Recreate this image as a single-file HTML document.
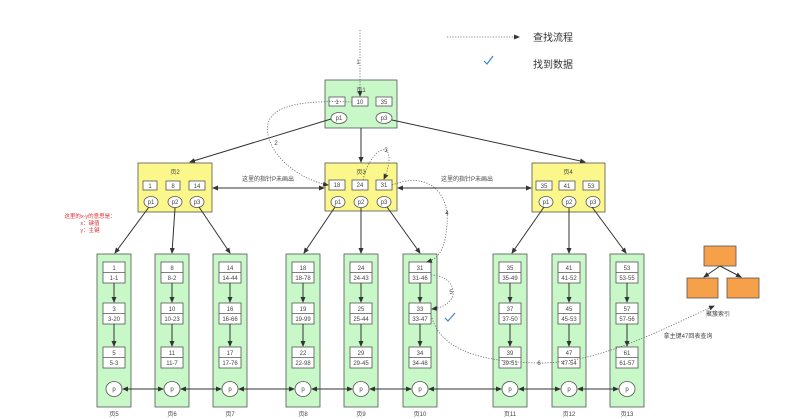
<!DOCTYPE html>
<html><head><meta charset="utf-8">
<style>
html,body{margin:0;padding:0;background:#fff;}
svg{display:block;font-family:"Liberation Sans","Noto Sans CJK SC",sans-serif;}
.t{font-size:6px;fill:#444;text-anchor:middle;}
.k{fill:#fff;stroke:#555;stroke-width:0.8;}
.ln{stroke:#333;stroke-width:1;fill:none;}
.dot{stroke:#666;stroke-width:0.8;fill:none;stroke-dasharray:1.2 1.5;}
</style></head>
<body>
<svg width="812" height="419" viewBox="0 0 812 419" xmlns="http://www.w3.org/2000/svg">
<defs>
<marker id="a" markerWidth="6" markerHeight="6" refX="5" refY="3" orient="auto" markerUnits="userSpaceOnUse"><path d="M0,0.5 L6,3 L0,5.5 Z" fill="#333"/></marker>
<marker id="as" markerWidth="6" markerHeight="6" refX="1" refY="3" orient="auto" markerUnits="userSpaceOnUse"><path d="M6,0.5 L0,3 L6,5.5 Z" fill="#333"/></marker>
<g id="leaf">
<rect x="0" y="254" width="34" height="153" fill="#c8f7c8" stroke="#555" stroke-width="0.8"/>
<rect class="k" x="6" y="262" width="22" height="21"/><line x1="6" y1="272.5" x2="28" y2="272.5" stroke="#555" stroke-width="0.8"/>
<rect class="k" x="6" y="303" width="22" height="21"/><line x1="6" y1="313.5" x2="28" y2="313.5" stroke="#555" stroke-width="0.8"/>
<rect class="k" x="6" y="347" width="22" height="21"/><line x1="6" y1="357.5" x2="28" y2="357.5" stroke="#555" stroke-width="0.8"/>
<line class="ln" x1="17" y1="283" x2="17" y2="302" marker-end="url(#a)"/>
<line class="ln" x1="17" y1="324" x2="17" y2="346" marker-end="url(#a)"/>
<ellipse cx="17" cy="389" rx="8" ry="7.5" fill="#fff" stroke="#555" stroke-width="0.8"/>
<text class="t" x="17" y="391">p</text>
</g>
</defs>

<line class="dot" x1="447" y1="37" x2="519" y2="37" marker-end="url(#a)"/>
<text x="533" y="41" style="font-size:10px;fill:#333">查找流程</text>
<path d="M484,61 L487,64 L493,56" stroke="#3b82d6" stroke-width="1.2" fill="none"/>
<text x="533" y="68" style="font-size:10px;fill:#333">找到数据</text>

<rect x="325" y="80" width="72" height="48" fill="#c8f7c8" stroke="#555" stroke-width="0.8"/>
<text class="t" x="361" y="92">页1</text>
<rect class="k" x="329" y="97" width="16" height="9"/><text class="t" x="337" y="104">1</text>
<rect class="k" x="352" y="97" width="16" height="9"/><text class="t" x="360" y="104">10</text>
<rect class="k" x="376" y="97" width="16" height="9"/><text class="t" x="384" y="104">35</text>
<ellipse cx="339" cy="118" rx="8" ry="5.5" fill="#fff" stroke="#555" stroke-width="0.8"/><text class="t" x="339" y="120">p1</text>
<ellipse cx="384" cy="118" rx="8" ry="5.5" fill="#fff" stroke="#555" stroke-width="0.8"/><text class="t" x="384" y="120">p3</text>

<g>
<rect x="138" y="163" width="74" height="49" fill="#fbf78a" stroke="#555" stroke-width="0.8"/>
<text class="t" x="175" y="174">页2</text>
<rect class="k" x="143" y="181" width="14" height="9"/><text class="t" x="150" y="188">1</text>
<rect class="k" x="166" y="181" width="14" height="9"/><text class="t" x="173" y="188">8</text>
<rect class="k" x="189" y="181" width="16" height="9"/><text class="t" x="197" y="188">14</text>
<ellipse cx="151" cy="202" rx="7" ry="5.5" fill="#fff" stroke="#555" stroke-width="0.8"/><text class="t" x="151" y="204">p1</text>
<ellipse cx="175" cy="202" rx="7" ry="5.5" fill="#fff" stroke="#555" stroke-width="0.8"/><text class="t" x="175" y="204">p2</text>
<ellipse cx="197" cy="202" rx="7" ry="5.5" fill="#fff" stroke="#555" stroke-width="0.8"/><text class="t" x="197" y="204">p3</text>
</g>
<g>
<rect x="325" y="163" width="72" height="48" fill="#fbf78a" stroke="#555" stroke-width="0.8"/>
<text class="t" x="361" y="174">页3</text>
<rect class="k" x="329" y="180" width="16" height="10"/><text class="t" x="337" y="187">18</text>
<rect class="k" x="352" y="180" width="16" height="10"/><text class="t" x="360" y="187">24</text>
<rect class="k" x="376" y="180" width="16" height="10"/><text class="t" x="384" y="187">31</text>
<ellipse cx="338" cy="202" rx="7" ry="5.5" fill="#fff" stroke="#555" stroke-width="0.8"/><text class="t" x="338" y="204">p1</text>
<ellipse cx="361" cy="202" rx="7" ry="5.5" fill="#fff" stroke="#555" stroke-width="0.8"/><text class="t" x="361" y="204">p2</text>
<ellipse cx="384" cy="202" rx="7" ry="5.5" fill="#fff" stroke="#555" stroke-width="0.8"/><text class="t" x="384" y="204">p3</text>
</g>
<g>
<rect x="532" y="163" width="73" height="49" fill="#fbf78a" stroke="#555" stroke-width="0.8"/>
<text class="t" x="568" y="174">页4</text>
<rect class="k" x="536" y="181" width="16" height="9"/><text class="t" x="544" y="188">35</text>
<rect class="k" x="559" y="181" width="16" height="9"/><text class="t" x="567" y="188">41</text>
<rect class="k" x="583" y="181" width="16" height="9"/><text class="t" x="591" y="188">53</text>
<ellipse cx="546" cy="202" rx="7" ry="5.5" fill="#fff" stroke="#555" stroke-width="0.8"/><text class="t" x="546" y="204">p1</text>
<ellipse cx="569" cy="202" rx="7" ry="5.5" fill="#fff" stroke="#555" stroke-width="0.8"/><text class="t" x="569" y="204">p2</text>
<ellipse cx="593" cy="202" rx="7" ry="5.5" fill="#fff" stroke="#555" stroke-width="0.8"/><text class="t" x="593" y="204">p3</text>
</g>

<line class="ln" x1="331" y1="119" x2="190" y2="162" marker-end="url(#a)"/>
<line class="ln" x1="361" y1="128" x2="361" y2="162" marker-end="url(#a)"/>
<line class="ln" x1="392" y1="120" x2="585" y2="162" marker-end="url(#a)"/>
<line class="ln" x1="213" y1="188" x2="324" y2="188" marker-start="url(#as)" marker-end="url(#a)"/>
<text class="t" x="268" y="181">这里的指针P未画出</text>
<line class="ln" x1="398" y1="188" x2="531" y2="188" marker-start="url(#as)" marker-end="url(#a)"/>
<text class="t" x="467" y="181">这里的指针P未画出</text>

<line class="ln" x1="149" y1="207" x2="115" y2="253" marker-end="url(#a)"/>
<line class="ln" x1="175" y1="208" x2="172" y2="253" marker-end="url(#a)"/>
<line class="ln" x1="199" y1="207" x2="230" y2="253" marker-end="url(#a)"/>
<line class="ln" x1="335" y1="207" x2="304" y2="253" marker-end="url(#a)"/>
<line class="ln" x1="361" y1="208" x2="361" y2="253" marker-end="url(#a)"/>
<line class="ln" x1="387" y1="207" x2="420" y2="253" marker-end="url(#a)"/>
<line class="ln" x1="544" y1="207" x2="512" y2="253" marker-end="url(#a)"/>
<line class="ln" x1="569" y1="208" x2="569" y2="253" marker-end="url(#a)"/>
<line class="ln" x1="592" y1="207" x2="626" y2="253" marker-end="url(#a)"/>

<use href="#leaf" x="97"/><use href="#leaf" x="155"/><use href="#leaf" x="213"/>
<use href="#leaf" x="286"/><use href="#leaf" x="344"/><use href="#leaf" x="403"/>
<use href="#leaf" x="493"/><use href="#leaf" x="552"/><use href="#leaf" x="610"/>

<g class="t">
<text class="t" x="114" y="270">1</text><text class="t" x="114" y="280">1-1</text><text class="t" x="114" y="311">3</text><text class="t" x="114" y="321">3-20</text><text class="t" x="114" y="355">5</text><text class="t" x="114" y="365">5-3</text>
<text class="t" x="172" y="270">8</text><text class="t" x="172" y="280">8-2</text><text class="t" x="172" y="311">10</text><text class="t" x="172" y="321">10-23</text><text class="t" x="172" y="355">11</text><text class="t" x="172" y="365">11-7</text>
<text class="t" x="230" y="270">14</text><text class="t" x="230" y="280">14-44</text><text class="t" x="230" y="311">16</text><text class="t" x="230" y="321">16-66</text><text class="t" x="230" y="355">17</text><text class="t" x="230" y="365">17-76</text>
<text class="t" x="303" y="270">18</text><text class="t" x="303" y="280">18-78</text><text class="t" x="303" y="311">19</text><text class="t" x="303" y="321">19-99</text><text class="t" x="303" y="355">22</text><text class="t" x="303" y="365">22-98</text>
<text class="t" x="361" y="270">24</text><text class="t" x="361" y="280">24-43</text><text class="t" x="361" y="311">25</text><text class="t" x="361" y="321">25-44</text><text class="t" x="361" y="355">29</text><text class="t" x="361" y="365">29-45</text>
<text class="t" x="420" y="270">31</text><text class="t" x="420" y="280">31-46</text><text class="t" x="420" y="311">33</text><text class="t" x="420" y="321">33-47</text><text class="t" x="420" y="355">34</text><text class="t" x="420" y="365">34-48</text>
<text class="t" x="510" y="270">35</text><text class="t" x="510" y="280">35-49</text><text class="t" x="510" y="311">37</text><text class="t" x="510" y="321">37-50</text><text class="t" x="510" y="355">39</text><text class="t" x="510" y="365">39-51</text>
<text class="t" x="569" y="270">41</text><text class="t" x="569" y="280">41-52</text><text class="t" x="569" y="311">45</text><text class="t" x="569" y="321">45-53</text><text class="t" x="569" y="355">47</text><text class="t" x="569" y="365">47-54</text>
<text class="t" x="627" y="270">53</text><text class="t" x="627" y="280">53-55</text><text class="t" x="627" y="311">57</text><text class="t" x="627" y="321">57-56</text><text class="t" x="627" y="355">61</text><text class="t" x="627" y="365">61-57</text>
</g>
<text class="t" x="114" y="416">页5</text><text class="t" x="172" y="416">页6</text><text class="t" x="230" y="416">页7</text>
<text class="t" x="303" y="416">页8</text><text class="t" x="361" y="416">页9</text><text class="t" x="420" y="416">页10</text>
<text class="t" x="510" y="416">页11</text><text class="t" x="569" y="416">页12</text><text class="t" x="627" y="416">页13</text>

<line class="ln" x1="123" y1="389" x2="163" y2="389" marker-start="url(#as)" marker-end="url(#a)"/>
<line class="ln" x1="181" y1="389" x2="221" y2="389" marker-start="url(#as)" marker-end="url(#a)"/>
<line class="ln" x1="239" y1="389" x2="294" y2="389" marker-start="url(#as)" marker-end="url(#a)"/>
<line class="ln" x1="312" y1="389" x2="352" y2="389" marker-start="url(#as)" marker-end="url(#a)"/>
<line class="ln" x1="370" y1="389" x2="411" y2="389" marker-start="url(#as)" marker-end="url(#a)"/>
<line class="ln" x1="429" y1="389" x2="501" y2="389" marker-start="url(#as)" marker-end="url(#a)"/>
<line class="ln" x1="519" y1="389" x2="560" y2="389" marker-start="url(#as)" marker-end="url(#a)"/>
<line class="ln" x1="578" y1="389" x2="618" y2="389" marker-start="url(#as)" marker-end="url(#a)"/>

<text x="90" y="218" style="font-size:5.5px;fill:#e03030;text-anchor:middle">这里的x-y的意思是：</text>
<text x="90" y="225" style="font-size:5.5px;fill:#e03030;text-anchor:middle">x：键值</text>
<text x="90" y="232" style="font-size:5.5px;fill:#e03030;text-anchor:middle">y：主键</text>

<line class="dot" x1="360" y1="30" x2="360" y2="96" marker-end="url(#a)"/>
<text class="t" x="358" y="64">1</text>
<path class="dot" d="M352,102 C300,100 262,105 268,135 C275,165 310,182 328,185" marker-end="url(#a)"/>
<text class="t" x="276" y="145">2</text>
<path class="dot" d="M363,180 C368,160 378,148 386,150 C392,155 388,170 384,179" marker-end="url(#a)"/>
<text class="t" x="386" y="152">3</text>
<path class="dot" d="M392,185 C430,170 450,195 447,225 C445,248 440,258 427,262" marker-end="url(#a)"/>
<text class="t" x="447" y="215">4</text>
<path class="dot" d="M431,275 C450,275 456,290 452,298 C448,305 440,308 432,309" marker-end="url(#a)"/>
<text class="t" x="451" y="294">5</text>
<path d="M445,318 L448,321 L455,313" stroke="#3b82d6" stroke-width="1.2" fill="none"/>
<path class="dot" d="M432,318 C440,345 470,362 540,363 C600,363 660,330 714,306" marker-end="url(#a)"/>
<text class="t" x="539" y="365">6</text>

<rect x="704" y="246" width="32" height="20" fill="#f7a04a" stroke="#555" stroke-width="0.8"/>
<rect x="687" y="278" width="31" height="20" fill="#f7a04a" stroke="#555" stroke-width="0.8"/>
<rect x="727" y="278" width="32" height="20" fill="#f7a04a" stroke="#555" stroke-width="0.8"/>
<line class="ln" x1="720" y1="266" x2="704" y2="277" marker-end="url(#a)"/>
<line class="ln" x1="720" y1="266" x2="741" y2="277" marker-end="url(#a)"/>
<text class="t" x="718" y="316">聚簇索引</text>
<text class="t" x="688" y="338">拿主键47回表查询</text>
</svg>
</body></html>
